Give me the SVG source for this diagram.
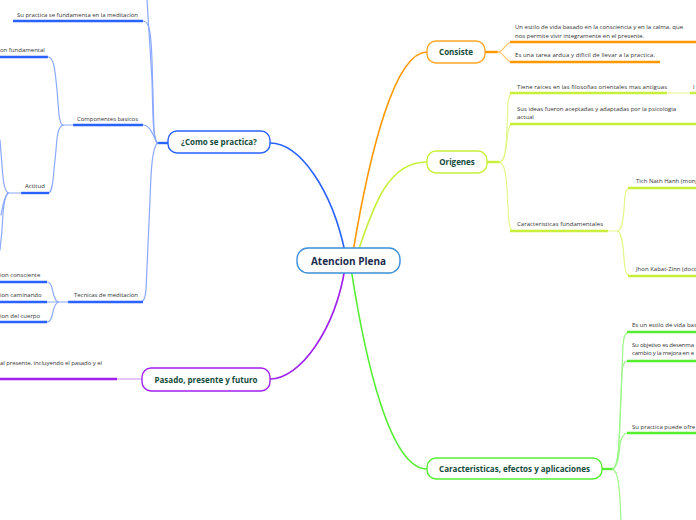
<svg xmlns="http://www.w3.org/2000/svg" width="696" height="520" viewBox="0 0 696 520">
<style>
.bg{fill:#ffffff}
.node{fill:#ffffff;stroke-width:1.4}
.nt{font-family:"Open Sans","Liberation Sans",sans-serif;font-weight:bold;font-size:8px;fill:#134a3a;text-anchor:middle}
.ct{font-family:"Open Sans","Liberation Sans",sans-serif;font-weight:bold;font-size:10px;fill:#1a2b4c;text-anchor:middle}
.t{font-family:"Open Sans","Liberation Sans",sans-serif;font-size:6px;fill:#333333}
.main{fill:none;stroke-width:1.6;stroke-linecap:round}
.thin{fill:none;stroke-width:1.2;stroke-linecap:round}
.u{fill:none;stroke-width:2.4}
.blue{stroke:#2962ff}.bl{stroke:#8aa8ff}
.org{stroke:#ff9800}.ol{stroke:#ffc46a}
.yel{stroke:#c8f03a}.yl{stroke:#e2f78a}
.grn{stroke:#55ee33}.gl{stroke:#9ef78a}
.pur{stroke:#a020f0}.pl{stroke:#cf8af2}
</style>
<rect class="bg" x="0" y="0" width="696" height="520"/>
<g id="connectors">
  <path class="main blue" d="M270 143 C300 143,332 190,345 252"/>
  <path class="main org" d="M353 252 C370 150,395 52,427 52"/>
  <path class="main yel" d="M358 252 C375 200,390 162,427 162"/>
  <path class="main pur" d="M345 268 C335 330,300 379,270 379"/>
  <path class="main grn" d="M351 268 C365 360,390 469,427 469"/>
  <path class="u blue" d="M157 143 H168"/>
  <path class="thin bl" d="M157 143 C153 138,153 120,152 80 L147 0"/>
  <path class="thin bl" d="M143 21 C150 21,151 35,152 60 L154 130 C155 138,156 143,158 143"/>
  <path class="thin bl" d="M143 125 C150 125,153 135,157 143"/>
  <path class="thin bl" d="M157 143 C152 150,151 170,150 200 L146 290 C145 298,144 302,140 302"/>
  <path class="u blue" d="M13 21 H143"/>
  <path class="u blue" d="M73 125 H143"/>
  <path class="thin bl" d="M62 125 H73"/>
  <path class="u blue" d="M68 302 H143"/>
  <path class="u blue" d="M0 57 H48"/>
  <path class="thin bl" d="M48 57 C54 57,55 70,57 90 L59 115 C60 122,61 125,63 125"/>
  <path class="thin bl" d="M63 125 C58 127,57 135,56 150 L53 180 C52 188,51 193,48 193"/>
  <path class="u blue" d="M21 193 H49"/>
  <path class="thin bl" d="M8 193 H21"/>
  <path class="thin bl" d="M8 193 C4 190,3 180,2 165 L0 140"/>
  <path class="thin bl" d="M8 193 C4 197,3 205,1 215"/>
  <path class="thin bl" d="M8 193 C4 197,3 210,2 230 L0 250"/>
  <path class="thin bl" d="M47 302 H68"/>
  <path class="thin bl" d="M58 302 C54 300,53 292,52 288 C51 284,50 282,47 282"/>
  <path class="thin bl" d="M58 302 C54 304,53 312,52 316 C51 320,50 322,47 322"/>
  <path class="u blue" d="M0 282 H47"/>
  <path class="u blue" d="M0 302 H47"/>
  <path class="u blue" d="M0 322 H47"/>
  <path class="thin pl" d="M117 379 H142"/>
  <path class="u pur" d="M0 379 H117"/>
  <path class="u org" d="M485 52 H498"/>
  <path class="thin ol" d="M498 52 C504 52,505 42,512 42"/>
  <path class="thin ol" d="M498 52 C504 52,505 62,512 62"/>
  <path class="u org" d="M510 42 H696"/>
  <path class="u org" d="M510 62 H660"/>
  <path class="u yel" d="M487 162 H500"/>
  <path class="thin yl" d="M500 162 C505 160,506 150,507 130 L508 102 C509 96,510 93,514 93"/>
  <path class="thin yl" d="M500 162 C505 160,506 150,507 140 L508 132 C509 127,510 124,514 124"/>
  <path class="thin yl" d="M500 162 C505 165,506 175,507 190 L509 222 C510 228,511 231,515 231"/>
  <path class="u yel" d="M510 93 H667"/>
  <path class="thin yl" d="M667 93 H690"/>
  <path class="u yel" d="M690 93 H696"/>
  <path class="u yel" d="M510 124 H696"/>
  <path class="u yel" d="M510 231 H608"/>
  <path class="thin yl" d="M608 231 H618"/>
  <path class="thin yl" d="M618 231 C622 229,623 220,624 210 L625 195 C626 190,627 188,631 188"/>
  <path class="thin yl" d="M618 231 C622 234,623 245,624 258 L625 268 C626 273,627 276,631 276"/>
  <path class="u yel" d="M628 188 H696"/>
  <path class="u yel" d="M628 276 H696"/>
  <path class="u grn" d="M602 469 H613"/>
  <path class="thin gl" d="M613 469 C618 465,619 450,620 420 L623 345 C624 336,625 332,630 332"/>
  <path class="thin gl" d="M613 469 C618 465,619 450,620 420 L622 372 C623 364,624 361,629 361"/>
  <path class="thin gl" d="M613 469 C618 466,619 455,620 445 C621 438,623 433,628 433"/>
  <path class="thin gl" d="M613 469 C618 473,619 485,620 500 L621 520"/>
  <path class="u grn" d="M627 332 H696"/>
  <path class="u grn" d="M627 361 H696"/>
  <path class="u grn" d="M627 433 H696"/>
</g>
<g id="center">
  <rect class="node" x="297" y="248" width="103" height="25" rx="11" stroke="#3d8fd9"/>
  <text class="ct" x="348.5" y="264.5">Atencion Plena</text>
</g>
<g id="como">
  <rect class="node" x="168" y="131" width="102" height="22" rx="9" stroke="#2962ff"/>
  <text class="nt" x="219" y="145">¿Como se practica?</text>
</g>
<g id="pasado">
  <rect class="node" x="142" y="368" width="128" height="23" rx="9" stroke="#a020f0"/>
  <text class="nt" x="206" y="382.5">Pasado, presente y futuro</text>
</g>
<g id="consiste">
  <rect class="node" x="427" y="41" width="58" height="22" rx="9" stroke="#ffa726"/>
  <text class="nt" x="456" y="55">Consiste</text>
</g>
<g id="origenes">
  <rect class="node" x="427" y="151" width="60" height="22" rx="9" stroke="#c8f03a"/>
  <text class="nt" x="457" y="165">Origenes</text>
</g>
<g id="caracteristicas">
  <rect class="node" x="427" y="458" width="175" height="21" rx="9" stroke="#55ee33"/>
  <text class="nt" x="514.5" y="472">Caracteristicas, efectos y aplicaciones</text>
</g>
<g id="su-practica-meditacion"><text class="t" x="17" y="17" textLength="121">Su practica se fundamenta en la meditacion</text></g>
<g id="componentes"><text class="t" x="77" y="121" textLength="61">Componentes basicos</text></g>
<g id="fundamental"><text class="t" x="0" y="52">on fundamental</text></g>
<g id="actitud"><text class="t" x="25" y="188">Actitud</text></g>
<g id="tecnicas"><text class="t" x="74" y="297" textLength="64">Tecnicas de meditacion</text></g>
<g id="consciente"><text class="t" x="0" y="277">ion consciente</text></g>
<g id="caminando"><text class="t" x="0" y="297">ion caminando</text></g>
<g id="cuerpo"><text class="t" x="0" y="318">ion del cuerpo</text></g>
<g id="pasado-text"><text class="t" x="0" y="365" textLength="102">al presente, incluyendo el pasado y el</text></g>
<g id="estilo-vida">
  <text class="t" x="515" y="29" textLength="168">Un estilo de vida basado en la consciencia y en la calma, que</text>
  <text class="t" x="515" y="37.5">nos permite vivir integramente en el presente.</text>
</g>
<g id="tarea"><text class="t" x="515" y="57" textLength="140">Es una tarea ardua y dificil de llevar a la practica.</text></g>
<g id="raices"><text class="t" x="517" y="88.5" textLength="150">Tiene raices en las filosofias orientales mas antiguas</text></g>
<g id="raices-child"><text class="t" x="693" y="88.5">I</text></g>
<g id="ideas">
  <text class="t" x="517" y="110.5">Sus ideas fueron aceptadas y adaptadas por la psicologia</text>
  <text class="t" x="517" y="119">actual</text>
</g>
<g id="caract-fund"><text class="t" x="517" y="225.5" textLength="86">Caracteristicas fundamentales</text></g>
<g id="tich"><text class="t" x="636" y="182.5">Tich Nath Hanh (monj</text></g>
<g id="jhon"><text class="t" x="636" y="270.5">Jhon Kabat-Zinn (doct</text></g>
<g id="es-estilo"><text class="t" x="632" y="327">Es un estilo de vida bas</text></g>
<g id="objetivo">
  <text class="t" x="632" y="346.5" textLength="62">Su objetivo es desenma</text>
  <text class="t" x="632" y="354.5" textLength="62">cambio y la mejora en e</text>
</g>
<g id="ofrecer"><text class="t" x="632" y="428.5">Su practica puede ofre</text></g>
</svg>
